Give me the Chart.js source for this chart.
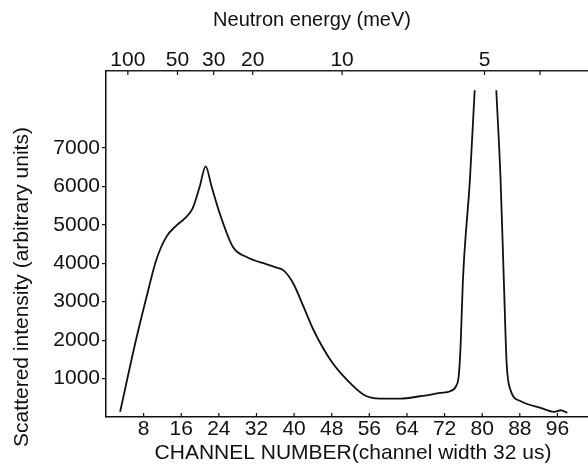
<!DOCTYPE html>
<html lang="en">
  <head>
    <meta charset="UTF-8" />
    <meta name="viewport" content="width=device-width, initial-scale=1.0" />
    <script src="https://cdn.jsdelivr.net/npm/chart.js@4.4.0/dist/chart.umd.min.js"></script>
    <title>Scattered intensity vs channel number</title>
    <style>
      body {
        margin: 0;
        padding: 0;
        background: white;
      }

      .container {
        width: 588px;
        height: 470px;
      }
    </style>
  </head>
  <body>
    <div class="container">
      <canvas id="chart"></canvas>
    </div>
    <script>
      // curve: channel number vs scattered intensity
      const channels = [
        3.0, 6.4, 8.9, 10.7, 12.8, 15.0, 16.7, 18.4, 19.9, 21.2, 22.4, 24.2,
        27.0, 29.9, 34.2, 35.9, 37.7, 39.8, 42.0, 44.1, 47.7, 51.2, 54.8,
        58.3, 62.6, 66.8, 71.1, 73.2, 74.5, 75.0, 75.4, 75.9, 77.4, 78.4,
        80.7, 83.0, 83.9, 84.6, 85.2, 86.0, 88.2, 92.4, 95.3, 96.7, 98.1,
      ]
      const intensity = [
        135, 2015, 3260, 4090, 4680, 4985, 5160, 5420, 5980, 6520, 6020, 5290,
        4420, 4160, 3970, 3900, 3820, 3480, 2870, 2270, 1490, 970, 580,
        480, 480, 540, 625, 670, 815, 1060, 1830, 3560, 6195, 8500,
        null, 8500, 6195, 3560, 1400, 710, 410, 240, 135, 175, 110,
      ]

      const channelTicks = [8, 16, 24, 32, 40, 48, 56, 64, 72, 80, 88, 96]
      const intensityTicks = [1000, 2000, 3000, 4000, 5000, 6000, 7000]
      // top axis: neutron energy marks placed at their channel positions
      const energyChannels = [4.65, 15.2, 22.9, 31.2, 50.2, 80.5, 92.3]
      const energyLabels = ['100', '50', '30', '20', '10', '5', '']

      const xMax = 102.5
      const yMax = 9000
      const fontFamily = "'Liberation Sans', Arial, sans-serif"
      const tickFont = { family: fontFamily, size: 21, lineHeight: 1 }

      Chart.defaults.font.family = fontFamily
      Chart.defaults.color = '#111'

      const points = channels.map((c, i) => ({ x: c, y: intensity[i] }))

      const setTicks = (values) => (scale) => {
        scale.ticks = values.map((v) => ({ value: v }))
      }

      // short tick marks pointing into the plot on both horizontal axes
      const innerTicks = {
        id: 'innerTicks',
        afterDraw(chart) {
          const { ctx, chartArea } = chart
          ctx.save()
          ctx.strokeStyle = '#111'
          ctx.lineWidth = 1.2
          const mark = (scale, y0, y1) => {
            scale.ticks.forEach((t) => {
              const px = scale.getPixelForValue(t.value)
              ctx.beginPath()
              ctx.moveTo(px, y0)
              ctx.lineTo(px, y1)
              ctx.stroke()
            })
          }
          mark(chart.scales.x, chartArea.bottom, chartArea.bottom - 4)
          mark(chart.scales.x2, chartArea.top, chartArea.top + 4)
          ctx.restore()
        },
      }

      const axisTitles = {
        id: 'axisTitles',
        afterDraw(chart) {
          const { ctx } = chart
          ctx.save()
          ctx.fillStyle = '#111'
          ctx.textAlign = 'center'
          ctx.textBaseline = 'middle'
          ctx.font = '20px ' + fontFamily
          ctx.fillText('Neutron energy (meV)', 312, 20)
          ctx.font = '21px ' + fontFamily
          ctx.fillText('CHANNEL NUMBER(channel width 32 us)', 353, 453)
          ctx.translate(22, 287)
          ctx.rotate(-Math.PI / 2)
          ctx.fillText('Scattered intensity (arbitrary units)', 0, 0)
          ctx.restore()
        },
      }

      new Chart(document.getElementById('chart'), {
        type: 'line',
        data: {
          datasets: [
            {
              data: points,
              borderColor: '#111',
              borderWidth: 1.8,
              pointRadius: 0,
              cubicInterpolationMode: 'monotone',
              spanGaps: false,
              fill: false,
            },
          ],
        },
        options: {
          responsive: true,
          maintainAspectRatio: false,
          animation: false,
          layout: { padding: 0 },
          plugins: {
            legend: { display: false },
            tooltip: { enabled: false },
            title: { display: false },
          },
          scales: {
            x: {
              type: 'linear',
              position: 'bottom',
              min: 0,
              max: xMax,
              afterBuildTicks: setTicks(channelTicks),
              afterFit: (s) => {
                s.height = 53
              },
              grid: { display: false, drawTicks: false },
              border: { display: true, color: '#111', width: 1.5 },
              ticks: {
                font: tickFont,
                color: '#111',
                padding: 2,
                autoSkip: false,
                maxRotation: 0,
                callback: (v) => String(v),
              },
            },
            x2: {
              type: 'linear',
              position: 'top',
              min: 0,
              max: xMax,
              afterBuildTicks: setTicks(energyChannels),
              afterFit: (s) => {
                s.height = 71
              },
              grid: { display: false, drawTicks: false },
              border: { display: true, color: '#222', width: 1.5 },
              ticks: {
                font: tickFont,
                color: '#111',
                padding: 0,
                autoSkip: false,
                maxRotation: 0,
                callback: (v, i) => energyLabels[i],
              },
            },
            y: {
              type: 'linear',
              min: 0,
              max: yMax,
              afterBuildTicks: setTicks(intensityTicks),
              afterFit: (s) => {
                s.width = 106
              },
              grid: {
                drawOnChartArea: false,
                drawTicks: true,
                tickLength: 4,
                color: '#111',
                lineWidth: 1.2,
              },
              border: { display: true, color: '#111', width: 1.5 },
              ticks: {
                font: tickFont,
                color: '#111',
                padding: 2,
                callback: (v) => String(v),
              },
            },
          },
        },
        plugins: [innerTicks, axisTitles],
      })
    </script>
  </body>
</html>
